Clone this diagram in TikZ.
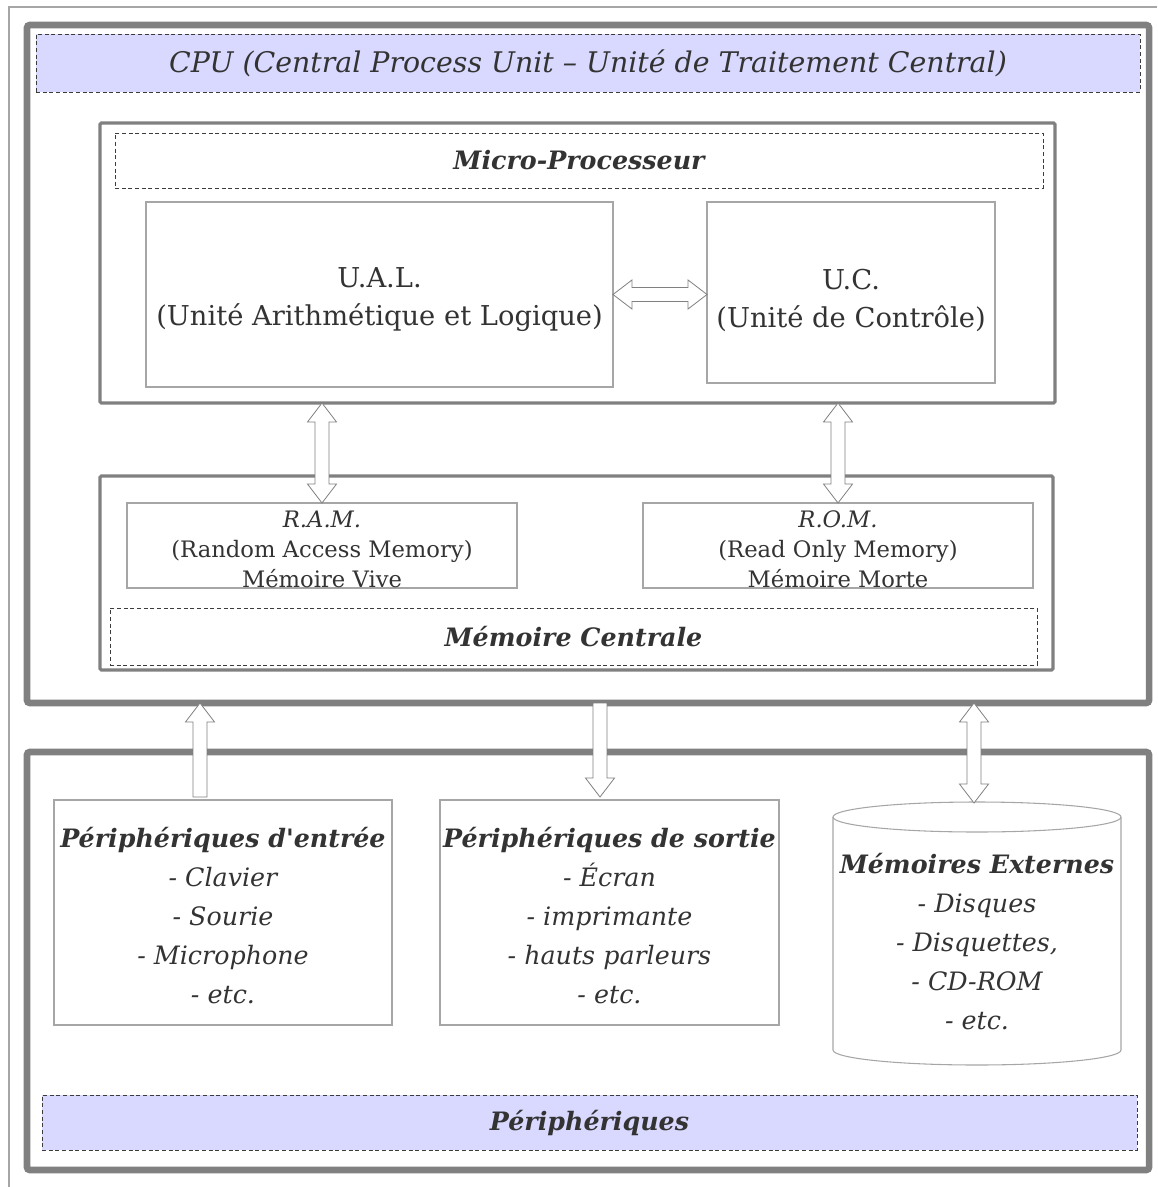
\documentclass[tikz,border=0pt]{standalone}
\usepackage{fontspec}
\setmainfont{DejaVu Serif}
\usetikzlibrary{calc}
\definecolor{txt}{HTML}{333333}
\definecolor{boxgray}{HTML}{808080}
\definecolor{thingray}{HTML}{A6A6A6}
\definecolor{dashgray}{HTML}{3C3C3C}
\definecolor{lavender}{HTML}{D9D9FF}
\begin{document}
\begin{tikzpicture}[x=0.75pt,y=-0.75pt,
  every node/.style={inner sep=0pt, outer sep=0pt, text=txt, align=center},
  bigbox/.style={draw=boxgray, line width=4.9pt, rounded corners=2pt},
  midbox/.style={draw=boxgray, line width=2.4pt, rounded corners=1pt},
  thinbox/.style={draw=thingray, line width=0.8pt},
  banner/.style={draw=dashgray, line width=0.7pt, dash pattern=on 3pt off 2pt},
  bluebanner/.style={banner, fill=lavender},
  bodyfont/.style={font=\fontsize{20.5}{28.5}\selectfont},
  titlefont/.style={font=\fontsize{19}{27}\selectfont\bfseries\itshape},
  smallfont/.style={font=\fontsize{17}{22.5}\selectfont},
  listfont/.style={font=\fontsize{19}{29.25}\selectfont\itshape},
  dblarrow/.style={draw=boxgray, fill=white, line width=0.6pt, to path={
    ($(\tikztostart)!14.25pt!(\tikztotarget)$) coordinate (h1)
    ($(\tikztotarget)!14.25pt!(\tikztostart)$) coordinate (h2)
    (\tikztostart) -- ($(h1)!10.9pt!90:(\tikztostart)$) -- ($(h1)!5.2pt!90:(\tikztostart)$)
    -- ($(h2)!5.2pt!-90:(\tikztotarget)$) -- ($(h2)!10.9pt!-90:(\tikztotarget)$)
    -- (\tikztotarget) -- ($(h2)!10.9pt!90:(\tikztotarget)$) -- ($(h2)!5.2pt!90:(\tikztotarget)$)
    -- ($(h1)!5.2pt!-90:(\tikztostart)$) -- ($(h1)!10.9pt!-90:(\tikztostart)$) -- cycle}},
  sglarrow/.style={draw=boxgray, fill=white, line width=0.6pt, to path={
    ($(\tikztotarget)!14.25pt!(\tikztostart)$) coordinate (h2)
    ($(\tikztostart)!5.2pt!90:(\tikztotarget)$) -- ($(h2)!5.2pt!90:(\tikztotarget)$)
    -- ($(h2)!10.9pt!90:(\tikztotarget)$) -- (\tikztotarget)
    -- ($(h2)!10.9pt!-90:(\tikztotarget)$) -- ($(h2)!5.2pt!-90:(\tikztotarget)$)
    -- ($(\tikztostart)!5.2pt!-90:(\tikztotarget)$) -- cycle}}]
\useasboundingbox (0,0) rectangle (1157,1187);
\draw[thingray, line width=1pt] (1157,7) -- (9,7) -- (9,1187);

\node[bigbox, minimum width=841.5pt, minimum height=508.5pt] (cpu) at (588,364) {};
\node[bluebanner, minimum width=828pt, minimum height=43.5pt, font=\fontsize{21.3}{24}\selectfont\itshape] (cputitle) at (588,63) {CPU (Central Process Unit – Unité de Traitement Central)};

\node[midbox, minimum width=716.25pt, minimum height=210pt] (mp) at (577.5,263) {};
\node[banner, titlefont, minimum width=696pt, minimum height=41.25pt] (mptitle) at (579,160.5) {Micro-Processeur};
\node[thinbox, minimum width=350.25pt, minimum height=138.75pt] (ual) at (379.5,294.5) {};
\node[bodyfont] (ualtxt) at (379.5,300) {U.A.L.\\(Unité Arithmétique et Logique)};
\node[thinbox, minimum width=216pt, minimum height=135.75pt] (uc) at (851,292.5) {};
\node[bodyfont] (uctxt) at (851,300) {U.C.\\(Unité de Contrôle)};

\node[midbox, minimum width=714.75pt, minimum height=145.5pt] (mc) at (576.5,573) {};
\node[thinbox, minimum width=292.5pt, minimum height=63.75pt] (ram) at (322,545.5) {};
\node[smallfont] (ramtxt) at (322,549.5) {\textit{R.A.M.}\\(Random Access Memory)\\Mémoire Vive};
\node[thinbox, minimum width=292.5pt, minimum height=63.75pt] (rom) at (838,545.5) {};
\node[smallfont] (romtxt) at (838,549.5) {\textit{R.O.M.}\\(Read Only Memory)\\Mémoire Morte};
\node[banner, titlefont, minimum width=695.25pt, minimum height=42.75pt] (mctitle) at (573.5,636.5) {Mémoire Centrale};

\node[bigbox, minimum width=841.5pt, minimum height=313.5pt] (per) at (588,961) {};
\node[thinbox, minimum width=253.5pt, minimum height=168.75pt] (entree) at (223,912.5) {};
\node[listfont] (entreetxt) at (223,916) {\textbf{Périphériques d\textquotesingle entrée}\\- Clavier\\- Sourie\\- Microphone\\- etc.};
\node[thinbox, minimum width=254.25pt, minimum height=168.75pt] (sortie) at (609.5,912.5) {};
\node[listfont] (sortietxt) at (609.5,916) {\textbf{Périphériques de sortie}\\- Écran\\- imprimante\\- hauts parleurs\\- etc.};
\draw[thingray, line width=0.8pt] (977,817) ellipse [x radius=108pt, y radius=11.25pt];
\draw[thingray, line width=0.8pt] (833,817) -- (833,1050) arc[start angle=180, end angle=360, x radius=108pt, y radius=11.25pt] -- (1121,817);
\node[listfont] (ext) at (977,942) {\textbf{Mémoires Externes}\\- Disques\\- Disquettes,\\- CD-ROM\\- etc.};
\node[bluebanner, titlefont, minimum width=821.25pt, minimum height=41.25pt] (pertitle) at (589.5,1122.5) {Périphériques};

\coordinate (inp) at (200,797);
\coordinate (outp) at (600,797);
\coordinate (exttop) at (974,803);
\draw[dblarrow] (ual.east) to (ual.east -| uc.west);
\draw[dblarrow] (mp.south -| ram.north) to (ram.north);
\draw[dblarrow] (mp.south -| rom.north) to (rom.north);
\draw[sglarrow] (inp) to (inp |- cpu.south);
\draw[sglarrow] (outp |- cpu.south) to (outp);
\draw[dblarrow] (exttop |- cpu.south) to (exttop);
\end{tikzpicture}
\end{document}
